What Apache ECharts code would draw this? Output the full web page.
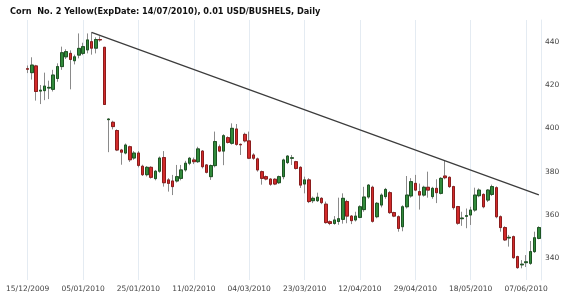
<!DOCTYPE html>
<html><head><meta charset="utf-8">
<script src="https://cdn.jsdelivr.net/npm/echarts@6/dist/echarts.min.js"></script>
<style>html,body{margin:0;padding:0;background:#fff}#c{width:570px;height:298px}</style>
</head><body><div id="c"></div>
<script>
const titleText = 'Corn  No. 2 Yellow(ExpDate: 14/07/2010), 0.01 USD/BUSHELS, Daily';
// empty sessions shown before the first candle
const leadDates = ['07/12/2009','08/12/2009','09/12/2009','10/12/2009','11/12/2009','14/12/2009'];
const dates = [
'15/12/2009','16/12/2009','17/12/2009','18/12/2009','21/12/2009','22/12/2009','23/12/2009','24/12/2009','28/12/2009','29/12/2009','30/12/2009','31/12/2009',
'04/01/2010','05/01/2010','06/01/2010','07/01/2010','08/01/2010','11/01/2010','12/01/2010','13/01/2010','14/01/2010','15/01/2010','19/01/2010','20/01/2010','21/01/2010','22/01/2010','25/01/2010','26/01/2010','27/01/2010','28/01/2010','29/01/2010',
'01/02/2010','02/02/2010','03/02/2010','04/02/2010','05/02/2010','08/02/2010','09/02/2010','10/02/2010','11/02/2010','12/02/2010','17/02/2010','18/02/2010','19/02/2010','22/02/2010','23/02/2010','24/02/2010','25/02/2010','26/02/2010',
'01/03/2010','02/03/2010','03/03/2010','04/03/2010','05/03/2010','08/03/2010','09/03/2010','10/03/2010','11/03/2010','12/03/2010','15/03/2010','16/03/2010','17/03/2010','18/03/2010','19/03/2010','22/03/2010','23/03/2010','24/03/2010','25/03/2010','26/03/2010','29/03/2010','30/03/2010','31/03/2010',
'01/04/2010','05/04/2010','06/04/2010','07/04/2010','08/04/2010','09/04/2010','12/04/2010','13/04/2010','14/04/2010','15/04/2010','16/04/2010','19/04/2010','20/04/2010','21/04/2010','22/04/2010','23/04/2010','26/04/2010','27/04/2010','28/04/2010','29/04/2010','30/04/2010',
'03/05/2010','04/05/2010','05/05/2010','06/05/2010','07/05/2010','10/05/2010','11/05/2010','12/05/2010','13/05/2010','14/05/2010','17/05/2010','18/05/2010','19/05/2010','20/05/2010','21/05/2010','24/05/2010','25/05/2010','26/05/2010','27/05/2010','28/05/2010',
'01/06/2010','02/06/2010','03/06/2010','04/06/2010','07/06/2010','08/06/2010','09/06/2010','10/06/2010'];
const opens = [427.5,425.7,428.8,417.2,417.4,418.6,418.0,423.0,428.5,433.0,434.6,431.2,433.8,434.6,436.2,440.0,437.0,441.0,437.4,404.0,
402.8,399.0,390.0,388.6,391.5,386.3,388.6,382.5,378.6,382.0,376.8,380.2,386.5,376.2,375.7,375.7,376.9,380.8,383.9,385.4,
384.6,389.5,383.1,377.7,382.8,391.5,389.5,395.7,393.1,399.7,392.6,397.2,394.2,387.7,385.9,380.0,377.7,376.6,376.5,374.9,
377.7,384.2,386.2,384.6,382.0,374.3,376.2,366.6,366.6,367.7,365.0,356.9,356.1,357.0,358.0,366.2,359.5,357.7,358.9,362.5,
368.3,372.8,359.2,364.6,368.5,370.3,361.1,359.2,354.6,363.8,368.8,374.6,370.8,369.2,372.8,368.5,372.3,370.0,378.0,377.4,
373.1,363.9,358.3,359.4,360.0,362.3,368.9,369.5,366.9,369.5,372.6,359.2,354.2,349.4,350.0,340.8,337.0,338.0,337.7,343.1,349.2];
const closes = [427.3,429.2,417.0,417.6,419.5,418.9,424.6,428.5,434.9,435.4,431.8,433.0,436.9,437.7,440.8,437.0,441.0,440.8,411.0,404.3,
400.8,390.0,389.0,392.3,385.5,388.6,382.9,378.6,382.0,377.4,380.2,386.3,374.9,374.6,373.1,377.7,380.8,383.9,386.2,384.6,
390.5,382.3,379.7,382.8,393.9,389.5,396.6,393.5,400.0,392.6,392.4,394.2,386.2,386.2,380.8,376.9,376.6,374.2,374.3,377.7,
385.4,387.2,386.4,381.5,373.8,376.2,366.2,367.7,368.2,365.7,356.5,356.1,357.7,358.3,367.7,359.5,357.4,359.5,363.8,368.3,
373.8,357.1,365.4,369.2,371.8,361.1,359.5,353.8,363.8,369.2,375.4,371.5,369.2,372.8,371.5,372.3,370.3,376.9,377.2,373.1,
363.4,356.2,358.6,359.7,362.3,369.2,371.5,363.8,371.5,373.1,359.2,354.2,348.5,349.7,340.3,335.7,337.3,338.4,343.1,349.5,354.2];
const lows = [425.5,422.5,412.8,411.2,413.0,413.5,417.0,421.5,427.0,432.0,418.0,429.5,432.3,433.8,434.6,434.0,434.6,440.0,410.8,389.0,
399.5,389.5,383.2,388.0,384.5,385.5,382.0,378.0,377.8,376.8,376.0,379.5,373.1,370.8,369.2,375.0,376.0,380.0,383.0,383.5,
384.0,381.5,379.2,376.2,382.0,389.0,383.0,393.0,392.5,392.0,387.7,393.5,385.8,385.5,380.0,374.0,376.0,373.5,373.8,374.3,
376.5,383.5,383.1,381.0,372.5,370.0,365.5,365.5,366.0,365.0,356.0,355.3,355.5,355.5,356.0,356.2,355.8,357.0,358.5,361.5,
367.5,356.5,358.5,363.5,367.5,360.5,359.0,352.3,352.5,363.0,368.0,371.0,362.5,368.5,368.0,367.5,365.5,369.5,376.5,372.5,
362.5,355.5,355.0,353.9,355.4,361.5,368.2,363.1,366.0,368.8,358.5,352.3,348.0,345.4,339.8,335.2,335.4,336.0,337.0,342.5,348.8];
const highs = [429.0,432.8,429.3,420.0,425.7,422.0,427.0,430.0,437.7,436.5,436.0,434.0,443.8,439.5,443.8,444.3,442.0,442.5,437.6,404.6,
403.5,399.5,390.5,393.0,392.0,389.5,389.5,383.2,382.6,382.5,380.8,387.0,389.5,377.0,378.5,383.1,383.1,385.0,386.8,386.5,
391.5,390.0,383.5,383.3,398.5,392.5,397.3,396.3,402.3,402.0,393.0,398.0,398.5,388.5,386.5,380.5,378.2,377.0,377.0,378.2,
386.0,387.6,387.7,385.0,382.5,377.7,377.0,368.5,370.3,368.2,366.2,357.5,359.5,368.0,370.0,367.0,360.0,361.5,364.5,373.0,
374.3,373.5,366.0,370.0,372.5,371.0,361.5,359.8,364.5,378.0,377.0,378.5,374.5,373.5,380.0,373.0,376.5,377.5,385.0,377.8,
373.5,364.2,361.5,363.0,363.8,372.6,372.3,370.0,372.0,374.0,373.2,359.8,354.8,350.8,350.5,341.2,339.2,341.5,348.0,352.3,354.8];
const yTickLabels = [340, 360, 380, 400, 420, 440];
const trendFrom = 15, trendTo = 98; // candles whose highs define the resistance line

const categories = leadDates.concat(dates);
const lead = leadDates.length;
const pad = leadDates.map(() => '-');
const fullData = pad.concat(dates.map((d, i) => [opens[i], closes[i], lows[i], highs[i]]));
const bodyData = pad.concat(dates.map((d, i) => [opens[i], closes[i], Math.min(opens[i], closes[i]), Math.max(opens[i], closes[i])]));
const slope = (highs[trendTo] - highs[trendFrom]) / (trendTo - trendFrom);
const lastIdx = categories.length - 1;
const trendEnd = highs[trendFrom] + slope * (lastIdx - lead - trendFrom);
const showIdx = (idx) => idx >= lead && (idx - lead) % 13 === 0;

const chart = echarts.init(document.getElementById('c'), null, {renderer: 'canvas'});
chart.setOption({
  animation: false,
  backgroundColor: '#fff',
  title: {text: titleText, left: 5, top: 3, textStyle: {fontFamily: 'DejaVu Sans', fontSize: 8.2, fontWeight: 'bold', color: '#111'}},
  grid: {left: 0, right: 29, top: 20, bottom: 18},
  xAxis: {
    type: 'category', data: categories, boundaryGap: true,
    axisLine: {show: false}, axisTick: {show: false},
    axisLabel: {interval: showIdx, margin: 5, fontFamily: 'DejaVu Sans', fontSize: 7.5, color: '#444'},
    splitLine: {show: true, interval: showIdx, alignWithLabel: true, lineStyle: {color: '#e4ebf2', width: 1}}
  },
  yAxis: {
    type: 'value', position: 'right', min: 330, max: 450, interval: 10, scale: true,
    axisLine: {show: true, lineStyle: {color: '#e4ebf2'}}, axisTick: {show: false}, splitLine: {show: false},
    axisLabel: {margin: 4, fontFamily: 'DejaVu Sans', fontSize: 7.5, color: '#444',
      formatter: v => yTickLabels.indexOf(v) >= 0 ? String(v) : ''}
  },
  series: [
    {type: 'candlestick', data: fullData, barWidth: 3, z: 2,
     itemStyle: {color: '#8a8a8a', color0: '#8a8a8a', borderColor: '#8a8a8a', borderColor0: '#8a8a8a', borderWidth: 1}},
    {type: 'candlestick', data: bodyData, barWidth: 3, z: 3,
     itemStyle: {color: '#318a3b', color0: '#d22b2b', borderColor: '#1d5423', borderColor0: '#8c1c1c', borderWidth: 1},
     markLine: {symbol: ['none', 'none'], silent: true, animation: false, label: {show: false},
       lineStyle: {color: '#3c3c3c', width: 1.2, type: 'solid'},
       data: [[{coord: [lead + trendFrom, highs[trendFrom]]}, {coord: [lastIdx, trendEnd]}]]}}
  ]
});
</script></body></html>
